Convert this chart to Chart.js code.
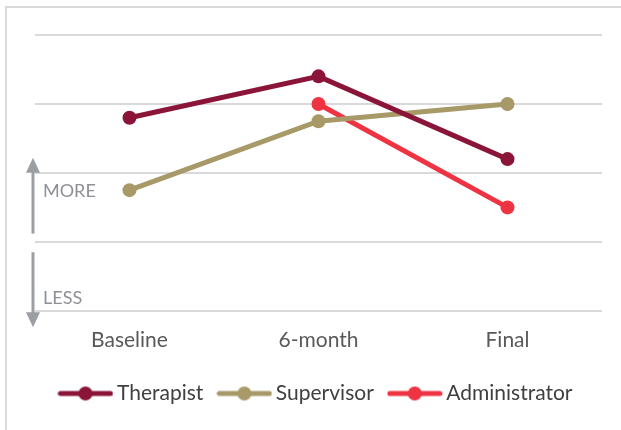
<!DOCTYPE html>
<html>
<head>
<meta charset="utf-8">
<script src="https://cdn.jsdelivr.net/npm/chart.js@4"></script>
<style>
  html, body { margin: 0; padding: 0; background: #fff; }
  #wrap { width: 621px; height: 430px; position: relative; }
</style>
</head>
<body>
<div id="wrap"><canvas id="chart"></canvas></div>
<script>
// данные
const categories = ['Baseline', '6-month', 'Final'];
const therapist = [2.8, 3.4, 2.2];
const supervisor = [1.75, 2.75, 3.0];
const administrator = [null, 3.0, 1.5];
const seriesNames = ['Therapist', 'Supervisor', 'Administrator'];
const colors = ['#8B1538', '#A89968', '#EE3342'];

const FONT = 'Lato, "Open Sans", sans-serif';

// иконка легенды: линия с точкой
function legendIcon(color) {
  const c = document.createElement('canvas');
  c.width = 56; c.height = 16;
  const g = c.getContext('2d');
  g.strokeStyle = color;
  g.lineWidth = 5;
  g.lineCap = 'round';
  g.beginPath(); g.moveTo(3, 8); g.lineTo(53, 8); g.stroke();
  g.fillStyle = color;
  g.beginPath(); g.arc(28, 8, 7, 0, Math.PI * 2); g.fill();
  return c;
}
const icons = colors.map(legendIcon);

// рамка и стрелки MORE / LESS
const decor = {
  id: 'decor',
  beforeDraw(chart) {
    const ctx = chart.ctx;
    ctx.save();
    ctx.strokeStyle = '#d9d9d9';
    ctx.lineWidth = 2;
    ctx.beginPath();
    ctx.moveTo(6, chart.height); ctx.lineTo(6, 7); ctx.lineTo(chart.width, 7);
    ctx.stroke();
    ctx.restore();
  },
  afterDraw(chart) {
    const ctx = chart.ctx, y = chart.scales.y;
    const x = chart.chartArea.left - 2;
    const gray = '#9b9ea3';
    ctx.save();
    ctx.strokeStyle = gray; ctx.fillStyle = gray; ctx.lineWidth = 3;
    // вверх
    let y0 = y.getPixelForValue(1.12), tip = y.getPixelForValue(2.22);
    ctx.beginPath(); ctx.moveTo(x, y0); ctx.lineTo(x, tip + 12); ctx.stroke();
    ctx.beginPath(); ctx.moveTo(x, tip); ctx.lineTo(x - 7, tip + 15); ctx.lineTo(x + 7, tip + 15); ctx.closePath(); ctx.fill();
    // вниз
    y0 = y.getPixelForValue(0.85); tip = y.getPixelForValue(-0.24);
    ctx.beginPath(); ctx.moveTo(x, y0); ctx.lineTo(x, tip - 12); ctx.stroke();
    ctx.beginPath(); ctx.moveTo(x, tip); ctx.lineTo(x - 7, tip - 15); ctx.lineTo(x + 7, tip - 15); ctx.closePath(); ctx.fill();
    ctx.fillStyle = '#8e9096';
    ctx.font = '18px ' + FONT;
    ctx.textBaseline = 'middle';
    ctx.fillText('MORE', x + 10, y.getPixelForValue(1.74));
    ctx.fillText('LESS', x + 10, y.getPixelForValue(0.18));
    ctx.restore();
  }
};

const data = [therapist, supervisor, administrator];

new Chart(document.getElementById('chart'), {
  type: 'line',
  data: {
    labels: categories,
    datasets: seriesNames.map((name, i) => ({
      label: name,
      data: data[i],
      borderColor: colors[i],
      backgroundColor: colors[i],
      borderWidth: 5,
      pointRadius: 7,
      pointHoverRadius: 7,
      pointBorderWidth: 0,
      pointStyle: 'circle',
      tension: 0,
      spanGaps: false
    }))
  },
  options: {
    responsive: true,
    maintainAspectRatio: false,
    animation: false,
    layout: { padding: { left: 35, right: 19, top: 35, bottom: 16 } },
    plugins: {
      tooltip: { enabled: false },
      legend: {
        position: 'bottom',
        labels: {
          usePointStyle: true,
          pointStyleWidth: 42,
          padding: 20,
          color: '#404040',
          font: { family: FONT, size: 21 },
          generateLabels: (chart) => seriesNames.map((name, i) => ({
            text: name,
            pointStyle: icons[i],
            fillStyle: colors[i],
            strokeStyle: colors[i],
            lineWidth: 0,
            fontColor: '#404040',
            datasetIndex: i
          }))
        }
      }
    },
    scales: {
      x: {
        offset: true,
        grid: { display: false, drawTicks: false },
        border: { display: false },
        ticks: { color: '#595959', font: { family: FONT, size: 21 }, padding: 17 },
        afterFit: (scale) => { scale.height -= 7; }
      },
      y: {
        min: 0, max: 4,
        border: { display: false },
        grid: { color: '#d9d9d9', lineWidth: 2, drawTicks: false },
        ticks: { display: false, stepSize: 1 }
      }
    }
  },
  plugins: [decor]
});
</script>
</body>
</html>
